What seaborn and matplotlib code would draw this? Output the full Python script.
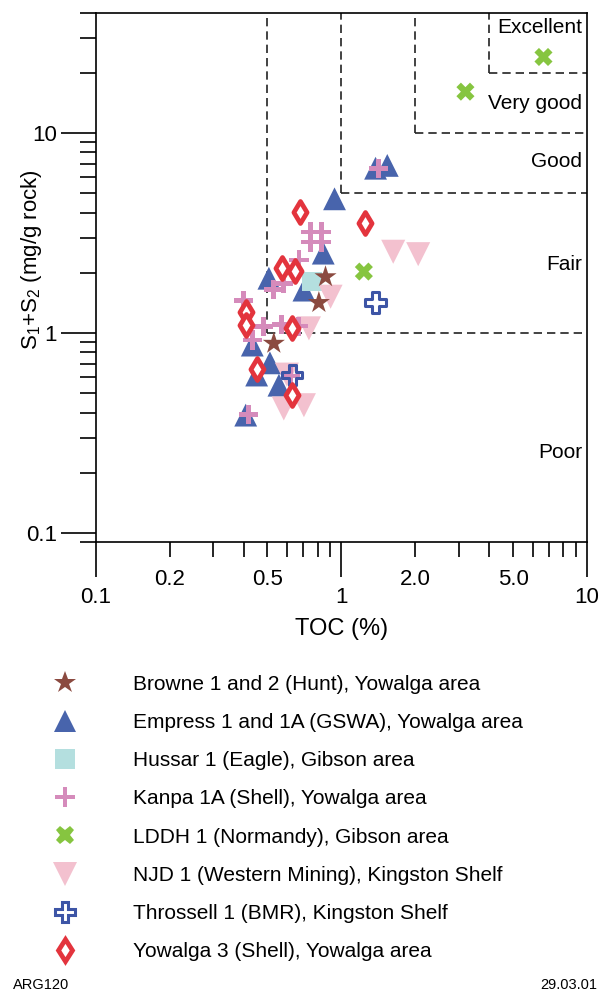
import numpy as np
import matplotlib
matplotlib.use("Agg")
import matplotlib.pyplot as plt
from matplotlib.path import Path
from matplotlib.lines import Line2D
import seaborn as sns

# ---- data: TOC (%) and S1+S2 (mg/g rock) for each well ----
browne_toc = [0.862, 0.810, 0.531]
browne_s12 = [1.91, 1.42, 0.888]

empress_toc = [0.938, 1.378, 1.538, 0.844, 0.507, 0.704, 0.408, 0.434, 0.512, 0.452, 0.557]
empress_s12 = [4.69, 6.67, 6.89, 2.51, 1.88, 1.64, 0.389, 0.871, 0.710, 0.617, 0.549]

hussar_toc = [0.761]
hussar_s12 = [1.81]

kanpa_toc = [1.421, 0.749, 0.831, 0.749, 0.831, 0.672, 0.583, 0.531, 0.401,
             0.481, 0.571, 0.670, 0.434, 0.62, 0.420]
kanpa_s12 = [6.67, 3.20, 3.20, 2.85, 2.85, 2.32, 1.77, 1.65, 1.46,
             1.076, 1.10, 1.084, 0.923, 0.61, 0.392]

lddh_toc = [6.65, 3.20, 1.235]
lddh_s12 = [24.0, 16.1, 2.03]

njd_toc = [1.626, 2.055, 0.904, 0.738, 0.60, 0.583, 0.704]
njd_s12 = [2.55, 2.48, 1.52, 1.056, 0.62, 0.420, 0.436]

throssell_toc = [1.378, 0.631]
throssell_s12 = [1.42, 0.617]

yowalga_toc = [0.680, 1.243, 0.575, 0.647, 0.411, 0.411, 0.631, 0.452, 0.631]
yowalga_s12 = [4.02, 3.54, 2.11, 2.05, 1.278, 1.096, 1.056, 0.658, 0.489]

well_labels = [
    "Browne 1 and 2 (Hunt), Yowalga area",
    "Empress 1 and 1A (GSWA), Yowalga area",
    "Hussar 1 (Eagle), Gibson area",
    "Kanpa 1A (Shell), Yowalga area",
    "LDDH 1 (Normandy), Gibson area",
    "NJD 1 (Western Mining), Kingston Shelf",
    "Throssell 1 (BMR), Kingston Shelf",
    "Yowalga 3 (Shell), Yowalga area",
]

# source-rock quality class boundaries (TOC, S1+S2) and their names
toc_limits = [0.5, 1, 2, 4]
s12_limits = [1, 5, 10, 20]
quality_names = ["Excellent", "Very good", "Good", "Fair", "Poor"]
quality_label_y = [33.6, 14.0, 7.17, 2.19, 0.254]

x_major = [0.1, 1, 10]
x_major_labels = ["0.1", "1", "10"]
x_minor = [0.2, 0.3, 0.4, 0.5, 0.6, 0.7, 0.8, 0.9, 2, 3, 4, 5, 6, 7, 8, 9]
x_minor_labels = ["0.2", "", "", "0.5", "", "", "", "",
                  "2.0", "", "", "5.0", "", "", "", ""]
y_major = [0.1, 1, 10]
y_major_labels = ["0.1", "1", "10"]

# ---- styling ----
sns.set_style("ticks")
plt.rcParams["font.family"] = ["Liberation Sans", "DejaVu Sans"]
plt.rcParams["mathtext.fontset"] = "custom"
plt.rcParams["mathtext.rm"] = "Liberation Sans"
plt.rcParams["mathtext.it"] = "Liberation Sans:italic"
plt.rcParams["lines.scale_dashes"] = False
for key in ["text.color", "axes.labelcolor", "xtick.color", "ytick.color",
            "xtick.labelcolor", "ytick.labelcolor"]:
    plt.rcParams[key] = "black"

# thinner-armed plus for Kanpa 1A
a = 0.125
plus_thin = Path([(-a, -0.5), (a, -0.5), (a, -a), (0.5, -a), (0.5, a), (a, a),
                  (a, 0.5), (-a, 0.5), (-a, a), (-0.5, a), (-0.5, -a), (-a, -a),
                  (-a, -0.5)], closed=True)

styles = [
    dict(marker="*", s=280, color="#8b4a40", edgecolor="none", linewidth=0),
    dict(marker="^", s=270, color="#4864ac", edgecolor="none", linewidth=0),
    dict(marker="s", s=200, color="#b4dfdf", edgecolor="none", linewidth=0),
    dict(marker=plus_thin, s=190, color="#d58bbb", edgecolor="none", linewidth=0),
    dict(marker="X", s=170, color="#86c540", edgecolor="none", linewidth=0),
    dict(marker="v", s=300, color="#f3c1cf", edgecolor="none", linewidth=0),
    dict(marker="P", s=215, color="none", edgecolor="#3d55a6", linewidth=2.2),
    dict(marker="d", s=125, color="white", edgecolor="#e3343d", linewidth=3.4),
]
series = [
    (browne_toc, browne_s12), (empress_toc, empress_s12), (hussar_toc, hussar_s12),
    (kanpa_toc, kanpa_s12), (lddh_toc, lddh_s12), (njd_toc, njd_s12),
    (throssell_toc, throssell_s12), (yowalga_toc, yowalga_s12),
]
# drawing order (bottom to top)
draw_order = [1, 2, 5, 3, 0, 4, 6, 7]

fig = plt.figure(figsize=(6.05, 9.96), dpi=100)
ax = fig.add_axes([95.7 / 605, 1 - 542.3 / 996, (587 - 95.7) / 605, (542.3 - 12.6) / 996])

ax.set_xscale("log")
ax.set_yscale("log")
ax.set_xlim(0.1, 10)
ax.set_ylim(0.09, 40)

# quality class boxes
for tx, sy in zip(toc_limits, s12_limits):
    ax.plot([tx, tx], [sy, 40], color="#222222", lw=1.2, dashes=(6, 3.6), zorder=1)
    ax.plot([tx, 10], [sy, sy], color="#222222", lw=1.2, dashes=(6, 3.6), zorder=1)

for name, yv in zip(quality_names, quality_label_y):
    ax.text(9.55, yv, name, ha="right", va="center", fontsize=15)

for z, i in enumerate(draw_order):
    st = styles[i]
    xs, ys = series[i]
    sns.scatterplot(x=xs, y=ys, ax=ax, marker=st["marker"], s=st["s"],
                    color=st["color"], edgecolor=st["edgecolor"],
                    linewidth=st["linewidth"], zorder=3 + z, legend=False)

# axes, ticks and labels
for sp in ax.spines.values():
    sp.set_visible(True)
    sp.set_linewidth(1.2)
    sp.set_color("black")

ax.set_xticks(x_major)
ax.set_xticklabels(x_major_labels)
ax.set_xticks(x_minor, minor=True)
ax.set_xticklabels(x_minor_labels, minor=True)
ax.set_yticks(y_major)
ax.set_yticklabels(y_major_labels)
ax.yaxis.set_minor_locator(matplotlib.ticker.LogLocator(base=10, subs=np.arange(2, 10)))
ax.yaxis.set_minor_formatter(matplotlib.ticker.NullFormatter())

ax.tick_params(axis="x", which="major", length=25, width=1.2, direction="out",
               pad=7, labelsize=16)
ax.tick_params(axis="x", which="minor", length=10.6, width=1.2, direction="out",
               pad=8.5, labelsize=16)
ax.tick_params(axis="y", which="major", length=25, width=1.2, direction="out",
               pad=3, labelsize=16)
ax.tick_params(axis="y", which="minor", length=11.5, width=1.2, direction="out")

ax.set_xlabel("TOC (%)", fontsize=17)
ax.xaxis.set_label_coords(0.5, -0.143)
ax.set_ylabel(r"S$_1$+S$_2$ (mg/g rock)", fontsize=16)
ax.yaxis.set_label_coords(-0.105, 0.533)

# legend below the plot
handles = []
for st in styles:
    handles.append(Line2D([], [], linestyle="none", marker=st["marker"],
                          markersize=np.sqrt(st["s"]),
                          markerfacecolor=st["color"],
                          markeredgecolor=st["edgecolor"],
                          markeredgewidth=st["linewidth"]))
fig.legend(handles, well_labels, loc="upper left",
           bbox_to_anchor=(44.2 / 605, 1 - 675 / 996), frameon=False,
           fontsize=15, handlelength=2.0, handletextpad=2.26,
           labelspacing=0.92, borderpad=0, borderaxespad=0, numpoints=1)

fig.text(13 / 605, 1 - 985 / 996, "ARG120", fontsize=10.5, ha="left", va="center")
fig.text(597 / 605, 1 - 985 / 996, "29.03.01", fontsize=10.5, ha="right", va="center")

fig.savefig("out.png", dpi=100)
